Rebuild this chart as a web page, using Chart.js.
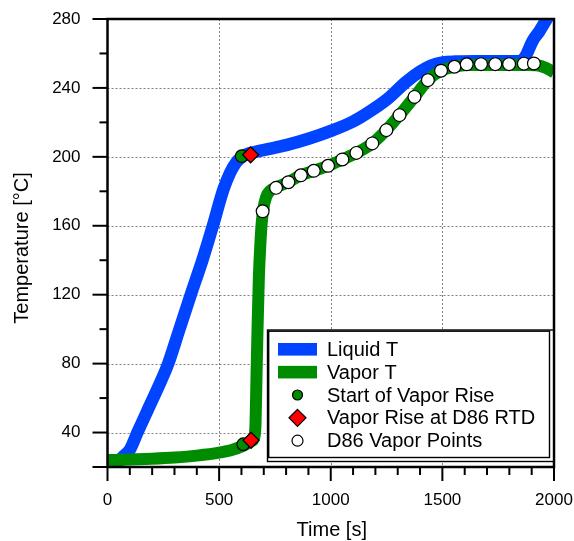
<!DOCTYPE html>
<html>
<head>
<meta charset="utf-8">
<script src="https://cdn.jsdelivr.net/npm/chart.js@4.4.0/dist/chart.umd.min.js"></script>
<style>
html,body{margin:0;padding:0;background:#fff;}
#c{display:block;}
</style>
</head>
<body>
<canvas id="c" width="574" height="541"></canvas>
<script>
// ---- axis definitions ----
const xTicks = [0, 500, 1000, 1500, 2000];
const yTicks = [40, 80, 120, 160, 200, 240, 280];
const xMinorStep = 100;
const yMinorStep = 20;
const xRange = [0, 2000];
const yRange = [20, 280];
const xTitle = 'Time [s]';
const yTitle = 'Temperature [°C]';

// ---- series ----
const seriesLabels = ['Liquid T', 'Vapor T', 'Start of Vapor Rise', 'Vapor Rise at D86 RTD', 'D86 Vapor Points'];

const liquidTime = [10, 40, 70, 100, 134, 180, 240, 272, 320, 373, 425, 472, 519, 550, 575, 598, 620, 650, 713, 800, 900, 1010, 1100, 1159, 1249, 1338, 1400, 1450, 1502, 1560, 1650, 1750, 1850, 1875, 1903, 1935, 1963, 1985];
const liquidTemp = [18, 22, 26, 30, 40, 53, 70, 80, 99, 120, 140, 160, 181, 191, 196.5, 199.5, 201.3, 202.5, 204.3, 206.8, 210.5, 215.5, 220.5, 225, 233, 243.5, 249.5, 253, 254.8, 255.3, 255.5, 255.5, 255.5, 259, 267, 273, 279, 284];

const vaporTime = [0, 100, 200, 300, 400, 500, 560, 610, 645, 658, 663, 667, 672, 678, 685, 691, 697, 710, 730, 755, 810, 866, 924, 988, 1052, 1115, 1186, 1249, 1308, 1375, 1435, 1494, 1554, 1609, 1700, 1800, 1880, 1930, 1965, 2000];
const vaporTemp = [24, 24.3, 24.8, 25.5, 26.6, 28.3, 30, 32.5, 35, 37.5, 45, 70, 100, 130, 150, 162, 169, 176.5, 180.5, 182.3, 185.3, 189.3, 191.9, 194.8, 198.5, 202.3, 207.8, 215.5, 224.2, 234.8, 244.5, 250, 252.3, 253.3, 253.3, 253.3, 253.3, 253, 251.5, 249];

const startRiseTime = [601, 608];
const startRiseTemp = [200.4, 33.2];

const rtdRiseTime = [641, 643];
const rtdRiseTemp = [201.2, 35.5];

const d86Time = [695, 755, 810, 866, 924, 988, 1052, 1115, 1186, 1249, 1308, 1375, 1435, 1494, 1554, 1609, 1673, 1737, 1799, 1865, 1910];
const d86Temp = [168.4, 182, 185.3, 189.3, 191.9, 194.8, 198.5, 202.3, 207.8, 215.5, 224.2, 234.8, 244.5, 250, 252.3, 253.7, 253.8, 253.8, 253.8, 254.1, 254.2];

const pts = (xs, ys) => xs.map((x, i) => ({x: x, y: ys[i]}));

const FONT = "'Liberation Sans', Arial, Helvetica, sans-serif";
const BLUE = '#0044ff';
const GREEN = '#008c00';
const RED = '#ff0000';

const datasets = [
  {label: seriesLabels[0], data: pts(liquidTime, liquidTemp), showLine: true, borderColor: BLUE, backgroundColor: BLUE,
   borderWidth: 12.5, pointRadius: 0, cubicInterpolationMode: 'monotone', borderCapStyle: 'butt', clip: 0, order: 4, kind: 'line'},
  {label: seriesLabels[1], data: pts(vaporTime, vaporTemp), showLine: true, borderColor: GREEN, backgroundColor: GREEN,
   borderWidth: 12, pointRadius: 0, cubicInterpolationMode: 'monotone', borderCapStyle: 'butt', clip: 0, order: 3, kind: 'line'},
  {label: seriesLabels[2], data: pts(startRiseTime, startRiseTemp), showLine: false, pointStyle: 'circle', pointRadius: 6.3,
   backgroundColor: GREEN, borderColor: '#000', borderWidth: 1.2, order: 2, kind: 'circle', legendR: 5},
  {label: seriesLabels[3], data: pts(rtdRiseTime, rtdRiseTemp), showLine: false, pointStyle: 'rectRot', pointRadius: 8,
   backgroundColor: RED, borderColor: '#000', borderWidth: 1.2, order: 1, kind: 'diamond', legendR: 8.5},
  {label: seriesLabels[4], data: pts(d86Time, d86Temp), showLine: false, pointStyle: 'circle', pointRadius: 6.4,
   backgroundColor: '#ffffff', borderColor: '#000', borderWidth: 1.2, order: 0, kind: 'circle', legendR: 5.5}
];

function seg(ctx, x1, y1, x2, y2) { ctx.beginPath(); ctx.moveTo(x1, y1); ctx.lineTo(x2, y2); ctx.stroke(); }

const framePlugin = {
  id: 'frame',
  beforeDatasetsDraw(chart) {
    const {ctx, chartArea: a, scales: {x, y}} = chart;
    ctx.save();
    ctx.strokeStyle = '#808080';
    ctx.lineWidth = 1;
    ctx.setLineDash([2, 2]);
    xTicks.forEach(v => {
      if (v <= xRange[0] || v >= xRange[1]) return;
      const px = Math.round(x.getPixelForValue(v)) + 0.5;
      seg(ctx, px, a.top, px, a.bottom);
    });
    yTicks.forEach(v => {
      if (v <= yRange[0] || v >= yRange[1]) return;
      const py = Math.round(y.getPixelForValue(v)) + 0.5;
      seg(ctx, a.left, py, a.right, py);
    });
    ctx.restore();
  },
  afterDatasetsDraw(chart) {
    const {ctx, chartArea: a, scales: {x, y}} = chart;
    ctx.save();
    ctx.setLineDash([]);
    ctx.strokeStyle = '#000';
    // ticks
    ctx.lineWidth = 2;
    for (let v = xRange[0]; v <= xRange[1]; v += xMinorStep) {
      const px = x.getPixelForValue(v);
      const major = xTicks.includes(v);
      seg(ctx, px, a.bottom, px, a.bottom + (major ? 14 : 8));
    }
    for (let v = yRange[0]; v <= yRange[1]; v += yMinorStep) {
      const py = y.getPixelForValue(v);
      const major = yTicks.includes(v) || v === yRange[0];
      seg(ctx, a.left - (major ? 15 : 8), py, a.left, py);
    }
    // frame
    ctx.lineWidth = 2.5;
    ctx.strokeRect(a.left, a.top, a.right - a.left, a.bottom - a.top);

    // legend
    const lx = 267.5, ly = 330, lw = 286, lh = 131.5;
    ctx.fillStyle = '#fff';
    ctx.fillRect(lx, ly, lw, lh);
    ctx.lineWidth = 1.4;
    ctx.strokeRect(lx, ly, lw, lh);
    ctx.strokeRect(lx + 1.2, ly + 1.2, lw - 5.2, lh - 5.2);
    ctx.font = '20px ' + FONT;
    ctx.textAlign = 'left';
    ctx.textBaseline = 'alphabetic';
    chart.data.datasets.forEach((ds, i) => {
      const cy = 349.3 + i * 22.85;
      const cx = 297.5;
      if (ds.kind === 'line') {
        ctx.fillStyle = ds.borderColor;
        ctx.fillRect(278, cy - 6.3, 39, 12.6);
      } else if (ds.kind === 'circle') {
        ctx.beginPath();
        ctx.arc(cx, cy, ds.legendR, 0, Math.PI * 2);
        ctx.fillStyle = ds.backgroundColor; ctx.fill();
        ctx.lineWidth = 1.2; ctx.strokeStyle = '#000'; ctx.stroke();
      } else if (ds.kind === 'diamond') {
        const r = ds.legendR;
        ctx.beginPath();
        ctx.moveTo(cx, cy - r); ctx.lineTo(cx + r, cy); ctx.lineTo(cx, cy + r); ctx.lineTo(cx - r, cy); ctx.closePath();
        ctx.fillStyle = ds.backgroundColor; ctx.fill();
        ctx.lineWidth = 1.2; ctx.strokeStyle = '#000'; ctx.stroke();
      }
      ctx.fillStyle = '#000';
      ctx.fillText(ds.label, 327, cy + 6.6);
    });

    // axis titles
    ctx.font = '20px ' + FONT;
    ctx.fillStyle = '#000';
    ctx.textAlign = 'center';
    ctx.textBaseline = 'middle';
    ctx.fillText(xTitle, (a.left + a.right) / 2 + 1, 530);
    ctx.translate(22, 248);
    ctx.rotate(-Math.PI / 2);
    ctx.fillText(yTitle, 0, 0);
    ctx.restore();
  }
};

new Chart(document.getElementById('c'), {
  type: 'scatter',
  data: {datasets: datasets},
  options: {
    responsive: false,
    devicePixelRatio: 1,
    animation: false,
    events: [],
    layout: {padding: {left: 0, top: 19, right: 20, bottom: 0}},
    plugins: {legend: {display: false}, tooltip: {enabled: false}, title: {display: false}},
    scales: {
      x: {
        type: 'linear', position: 'bottom', min: xRange[0], max: xRange[1],
        afterBuildTicks: s => { s.ticks = xTicks.map(v => ({value: v})); },
        afterFit: s => { s.height = 74; s.paddingLeft = 0; s.paddingRight = 0; },
        grid: {display: false, drawTicks: false},
        border: {display: false},
        ticks: {color: '#000', font: {family: FONT, size: 17}, padding: 23, maxRotation: 0, autoSkip: false,
                callback: v => String(v)}
      },
      y: {
        type: 'linear', position: 'left', min: yRange[0], max: yRange[1],
        afterBuildTicks: s => { s.ticks = yTicks.map(v => ({value: v})); },
        afterFit: s => { s.width = 107.5; s.paddingTop = 0; s.paddingBottom = 0; },
        grid: {display: false, drawTicks: false},
        border: {display: false},
        ticks: {color: '#000', font: {family: FONT, size: 17}, padding: 27, autoSkip: false,
                callback: v => String(v)}
      }
    }
  },
  plugins: [framePlugin]
});
</script>
</body>
</html>
